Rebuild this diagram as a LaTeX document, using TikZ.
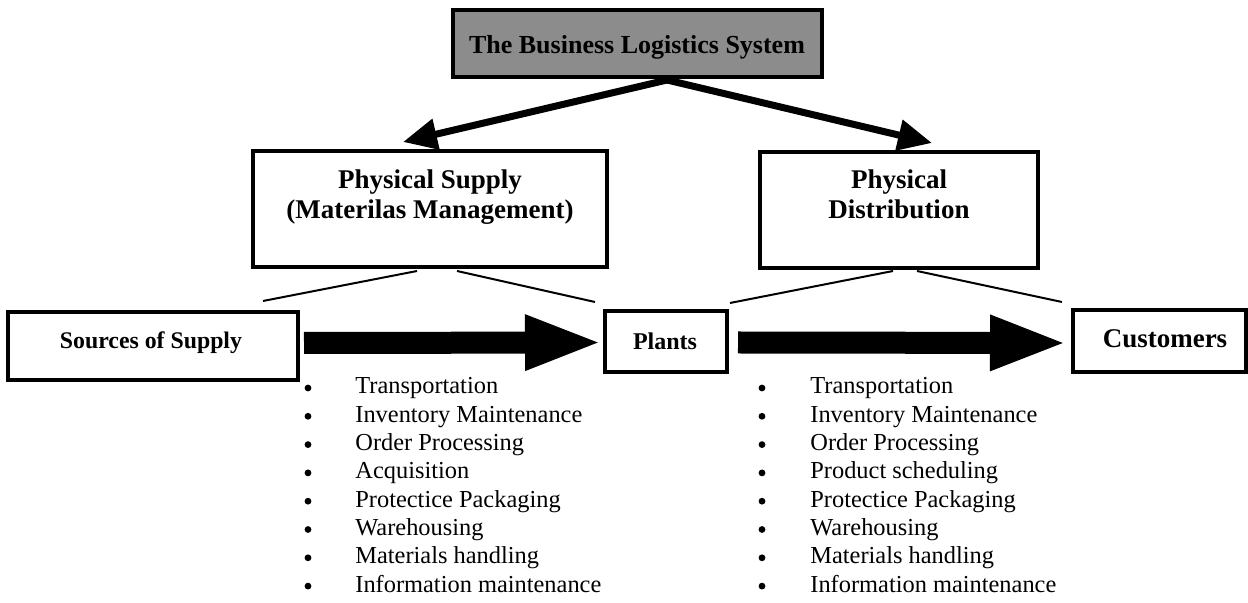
\documentclass[tikz,border=0pt]{standalone}
\usepackage{fontspec}
\setmainfont{Liberation Serif}
\usetikzlibrary{arrows.meta,calc}
\begin{document}
\begin{tikzpicture}[x=0.5pt,y=-0.5pt,
  box/.style={draw=black,line width=2pt,fill=white,inner sep=0pt},
  boxtext/.style={font=\fontsize{13.5}{15}\selectfont\bfseries,align=center,inner sep=0pt},
  thinline/.style={line width=1pt},
  splitarrow/.style={line width=3.5pt,-{Triangle[length=17pt,width=15pt]}},
  flowarrow/.style={line width=11pt,-{Triangle[length=39pt,width=25pt]}},
  itemtext/.style={font=\fontsize{12.2}{14}\selectfont,anchor=base west,inner sep=0pt},
  dot/.style={circle,fill=black,inner sep=0pt,minimum size=3.4pt}]
\useasboundingbox (0,0) rectangle (1248,603);

% title box
\node[box,fill=black!45,minimum width=184.5pt,minimum height=33.5pt] (top) at (637.5,43.5) {};
\node[font=\fontsize{13}{15}\selectfont\bfseries,inner sep=0pt] (toptext) at (637,47) {The Business Logistics System};

% the two branches
\node[box,minimum width=177pt,minimum height=58pt] (ps) at (430,209) {};
\node[boxtext] (pstext) at (430,197) {Physical Supply\\(Materilas Management)};
\node[box,minimum width=139pt,minimum height=58pt] (pd) at (899,210) {};
\node[boxtext] (pdtext) at (899,194) {Physical\\Distribution};

% split arrows
\coordinate (apex) at (667,80);
\coordinate (psin) at (403,142);
\coordinate (pdin) at (932,143);
\draw[splitarrow] (apex) -- (psin);
\draw[splitarrow] (apex) -- (pdin);

% flow row
\node[box,minimum width=145pt,minimum height=34pt] (src) at (153,346) {};
\node[font=\fontsize{11.9}{14}\selectfont\bfseries,inner sep=0pt] (srctext) at (151,343) {Sources of Supply};
\node[box,minimum width=61pt,minimum height=30.5pt] (plants) at (666,341.5) {};
\node[font=\fontsize{12}{14}\selectfont\bfseries,inner sep=0pt] (plantstext) at (665,341) {Plants};
\node[box,minimum width=86.5pt,minimum height=31pt] (cust) at (1159.5,341) {};
\node[font=\fontsize{13.5}{15}\selectfont\bfseries,inner sep=0pt] (custtext) at (1165,339) {Customers};

\draw[flowarrow] ($(src.east)+(4,-3)$) -- ($(plants.west)+(0,1)$);
\draw[flowarrow] ($(plants.east)+(9,1)$) -- ($(cust.west)+(-3,2)$);

% thin guide lines under the branch boxes
\coordinate (psl) at ($(ps.south)+(-13,2)$);
\coordinate (psr) at ($(ps.south)+(27,2)$);
\coordinate (psle) at (263,301);
\coordinate (psre) at (595,302);
\draw[thinline] (psl) -- (psle);
\draw[thinline] (psr) -- (psre);
\coordinate (pdl) at ($(pd.south)+(-6,1)$);
\coordinate (pdr) at ($(pd.south)+(18,1)$);
\coordinate (pdle) at (730,303);
\coordinate (pdre) at (1062,302);
\draw[thinline] (pdl) -- (pdle);
\draw[thinline] (pdr) -- (pdre);

% activity lists
\foreach \t [count=\i from 0] in {Transportation,Inventory Maintenance,Order Processing,Acquisition,Protectice Packaging,Warehousing,Materials handling,Information maintenance}{
  \node[dot] (lb\i) at (308,{388+28.3*\i}) {};
  \node[itemtext] (lt\i) at (355,{394+28.3*\i}) {\t};
}
\foreach \t [count=\i from 0] in {Transportation,Inventory Maintenance,Order Processing,Product scheduling,Protectice Packaging,Warehousing,Materials handling,Information maintenance}{
  \node[dot] (rb\i) at (762,{388+28.3*\i}) {};
  \node[itemtext] (rt\i) at (810,{394+28.3*\i}) {\t};
}
\end{tikzpicture}
\end{document}
